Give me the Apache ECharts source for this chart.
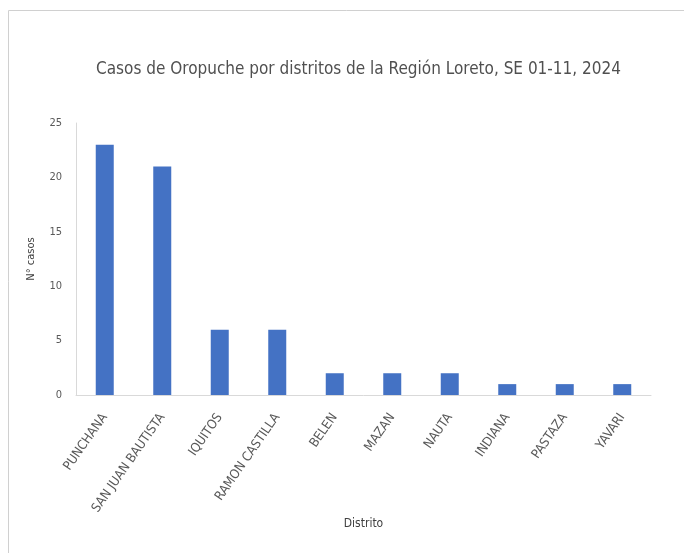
<!DOCTYPE html>
<html><head><meta charset="utf-8">
<script src="https://cdn.jsdelivr.net/npm/echarts@6/dist/echarts.min.js"></script>
<style>html,body{margin:0;padding:0;background:#fff}#c{width:684px;height:553px}</style>
</head><body><div id="c"></div>
<script>
const categories = ["PUNCHANA","SAN JUAN BAUTISTA","IQUITOS","RAMON CASTILLA","BELEN","MAZAN","NAUTA","INDIANA","PASTAZA","YAVARI"];
const casos = [23,21,6,6,2,2,2,1,1,1];
const titleText = "Casos de Oropuche por distritos de la Región Loreto, SE 01-11, 2024";
const yName = "N° casos";
const xName = "Distrito";
const font = "'Liberation Sans Narrow','DejaVu Sans Condensed',sans-serif";
const chart = echarts.init(document.getElementById('c'));
chart.setOption({
  animation:false,
  title:{text:titleText,left:91,top:56,textStyle:{fontFamily:font,fontSize:17,fontWeight:'normal',color:'#505050'}},
  graphic:[{type:'polyline',shape:{points:[[8.5,553],[8.5,10.5],[684,10.5]]},style:{stroke:'#d0d0d0',lineWidth:1,fill:null}}],
  grid:{left:76,right:33,top:123,bottom:158},
  xAxis:{type:'category',data:categories,name:xName,nameLocation:'middle',nameGap:122,
    nameTextStyle:{fontFamily:font,fontSize:12,color:'#404040'},
    axisLine:{lineStyle:{color:'#d9d9d9'}},axisTick:{show:false},
    axisLabel:{rotate:55,interval:0,fontFamily:font,fontSize:13,color:'#595959',margin:20}},
  yAxis:{type:'value',min:0,max:25,interval:5,name:yName,nameLocation:'middle',nameGap:39,
    nameTextStyle:{fontFamily:font,fontSize:11,color:'#404040'},
    axisLine:{show:true,lineStyle:{color:'#d9d9d9'}},axisTick:{show:false},splitLine:{show:false},
    axisLabel:{fontFamily:font,fontSize:11,color:'#595959',margin:14}},
  series:[{type:'bar',data:casos,barWidth:18,itemStyle:{color:'#4472C4'}}]
});
</script></body></html>
